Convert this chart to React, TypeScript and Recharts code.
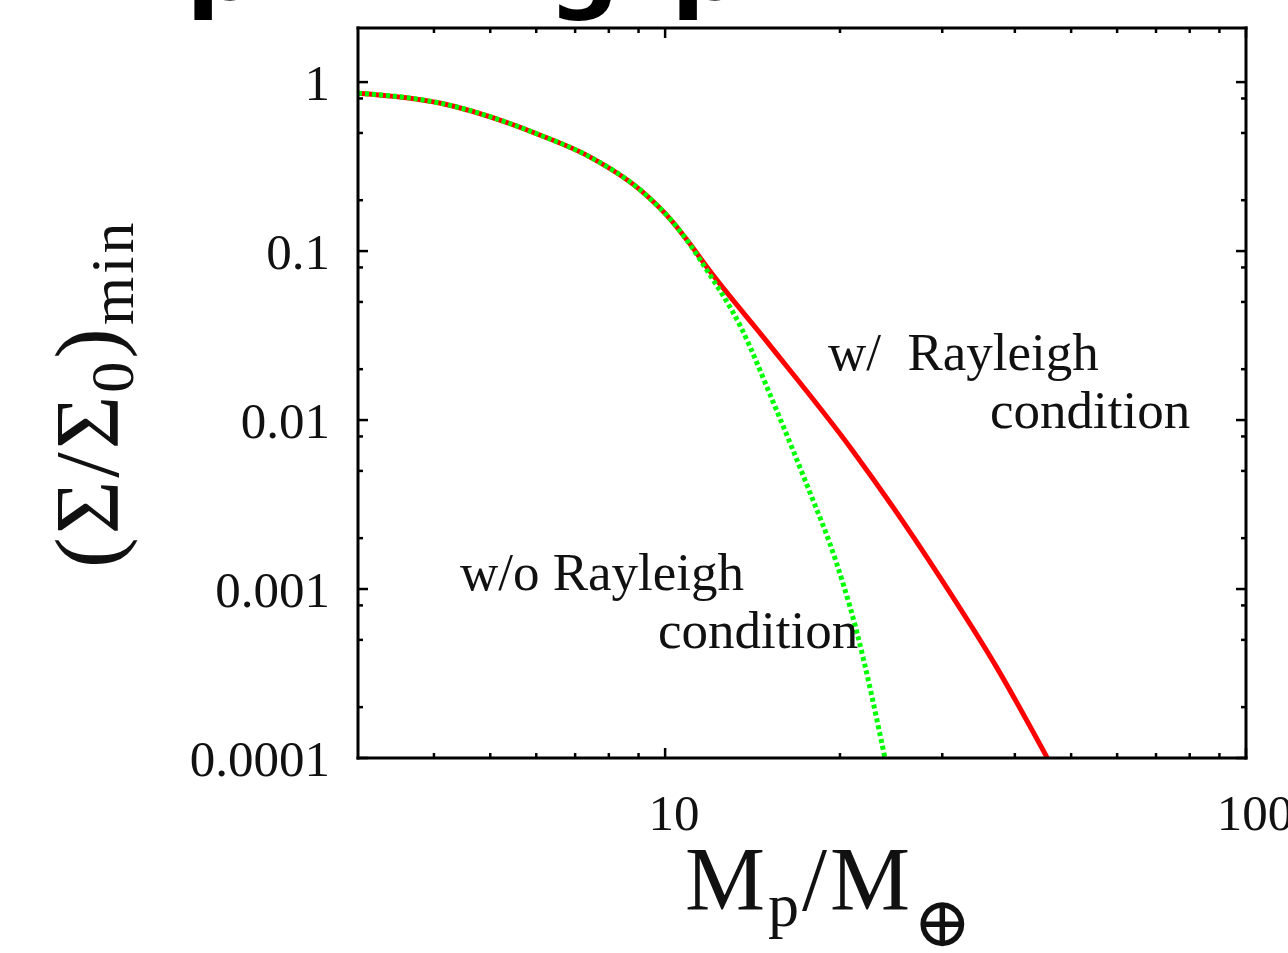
import { LineChart, Line, XAxis, YAxis } from 'recharts';

// planet mass (Earth masses) vs minimum surface density ratio
const redMass = [2.96, 4.11, 6.1, 7.43, 9.06, 10.3, 11.04, 11.8, 14.9, 21.0, 24.6, 29.7, 37.2, 45.5];
const redSigma = [0.86, 0.75, 0.485, 0.36, 0.23, 0.149, 0.11, 0.0804, 0.0297, 0.00663, 0.0031, 0.00118, 0.000345, 0.0001];

const greenMass = [2.96, 4.11, 6.1, 7.43, 9.06, 10.3, 11.04, 11.8, 13.5, 15.3, 17.96, 19.2, 21.4, 23.9];
const greenSigma = [0.86, 0.75, 0.485, 0.36, 0.23, 0.149, 0.109, 0.077, 0.0355, 0.0131, 0.00337, 0.00187, 0.00055, 0.0001];

const xTicks = [4, 5, 6, 7, 8, 9, 10, 20, 30, 40, 50, 60, 70, 80, 90, 100];
const yTicks = [
  0.0001, 0.0002, 0.0005, 0.0008,
  0.001, 0.002, 0.005, 0.008,
  0.01, 0.02, 0.05, 0.08,
  0.1, 0.2, 0.5, 0.8,
  1,
];

const redData = redMass.map((m, i) => ({ m, s: redSigma[i] }));
const greenData = greenMass.map((m, i) => ({ m, s: greenSigma[i] }));

const SERIF = '"Liberation Serif", "DejaVu Serif", serif';

function isMajor(v: number) {
  const l = Math.log10(v);
  return Math.abs(l - Math.round(l)) < 1e-6;
}

function makeTick(side: 'bottom' | 'top' | 'left' | 'right') {
  return (props: any) => {
    const { x, y, payload } = props;
    const v = payload.value as number;
    const major = isMajor(v);
    const len = major ? 10 : 5;
    let line;
    if (side === 'bottom') line = <line x1={x} y1={y} x2={x} y2={y - len} />;
    else if (side === 'top') line = <line x1={x} y1={y} x2={x} y2={y + len} />;
    else if (side === 'left') line = <line x1={x} y1={y} x2={x + len} y2={y} />;
    else line = <line x1={x} y1={y} x2={x - len} y2={y} />;
    return (
      <g>
        <g stroke="#000" strokeWidth={2.5}>{line}</g>
        {major && side === 'bottom' && (
          <text x={x + 9} y={y + 72} textAnchor="middle" fontSize={51} fontFamily={SERIF} fill="#111">
            {String(v)}
          </text>
        )}
        {major && side === 'left' && (
          <text x={x - 28} y={y + 18} textAnchor="end" fontSize={51} fontFamily={SERIF} fill="#111">
            {String(v)}
          </text>
        )}
      </g>
    );
  };
}

const frame = { stroke: '#000', strokeWidth: 3, strokeLinecap: 'square' as const };

export default function App() {
  return (
    <div style={{ position: 'absolute', left: 0, top: 0, width: 1288, height: 953, background: '#fff', overflow: 'hidden' }}>
      <LineChart
        width={1288}
        height={953}
        margin={{ top: 27, right: 41, bottom: 194, left: 357 }}
        style={{ position: 'absolute', left: 0, top: 0 }}
      >
        <XAxis
          dataKey="m" type="number" scale="log" domain={[2.96, 100]} allowDataOverflow
          ticks={xTicks} interval={0} height={1} tickSize={0} tickMargin={0}
          axisLine={frame} tickLine={false} tick={makeTick('bottom')}
        />
        <XAxis
          xAxisId="top" orientation="top" dataKey="m" type="number" scale="log" domain={[2.96, 100]} allowDataOverflow
          ticks={xTicks} interval={0} height={1} tickSize={0} tickMargin={0}
          axisLine={frame} tickLine={false} tick={makeTick('top')}
        />
        <YAxis
          type="number" scale="log" domain={[0.0001, 2.09]} allowDataOverflow
          ticks={yTicks} interval={0} width={1} tickSize={0} tickMargin={0}
          axisLine={frame} tickLine={false} tick={makeTick('left')}
        />
        <YAxis
          yAxisId="right" orientation="right" type="number" scale="log" domain={[0.0001, 2.09]} allowDataOverflow
          ticks={yTicks} interval={0} width={1} tickSize={0} tickMargin={0}
          axisLine={frame} tickLine={false} tick={makeTick('right')}
        />
        <Line
          data={redData} dataKey="s" type="monotone" stroke="#ff0000" strokeWidth={5}
          dot={false} activeDot={false} isAnimationActive={false}
        />
        <Line
          data={greenData} dataKey="s" type="monotone" stroke="#00ff00" strokeWidth={5}
          strokeDasharray="4 3" dot={false} activeDot={false} isAnimationActive={false}
        />
      </LineChart>

      <svg width={1288} height={953} style={{ position: 'absolute', left: 0, top: 0, pointerEvents: 'none' }}>
        {/* clipped bottom of the slide title above the plot */}
        <g fontFamily='"DejaVu Sans", sans-serif' fontWeight="bold" fontSize={100} fill="#000">
          <text x={186} y={-1}>p</text>
          <text x={548} y={-1}>g</text>
          <text x={671} y={-1}>p</text>
        </g>

        <g fontFamily={SERIF} fontSize={53} fill="#111">
          <text x={828} y={370} xmlSpace="preserve">w/  Rayleigh</text>
          <text x={990} y={428}>condition</text>
          <text x={460} y={590}>w/o Rayleigh</text>
          <text x={658} y={648}>condition</text>
        </g>

        {/* x axis title */}
        <text x={685} y={910} fontFamily={SERIF} fontSize={90} fill="#111" letterSpacing={3}>
          M<tspan fontSize={62} dy={16}>p</tspan><tspan dy={-16}>/M</tspan><tspan fontSize={70} dy={36}>⊕</tspan>
        </text>

        {/* y axis title */}
        <text transform="translate(118, 568) rotate(-90)" fontFamily={SERIF} fontSize={92} fill="#111" letterSpacing={3}>
          (Σ/Σ<tspan fontSize={62} dy={15}>0</tspan><tspan dy={-15}>)</tspan><tspan fontSize={62} dy={15}>min</tspan>
        </text>
      </svg>
    </div>
  );
}
